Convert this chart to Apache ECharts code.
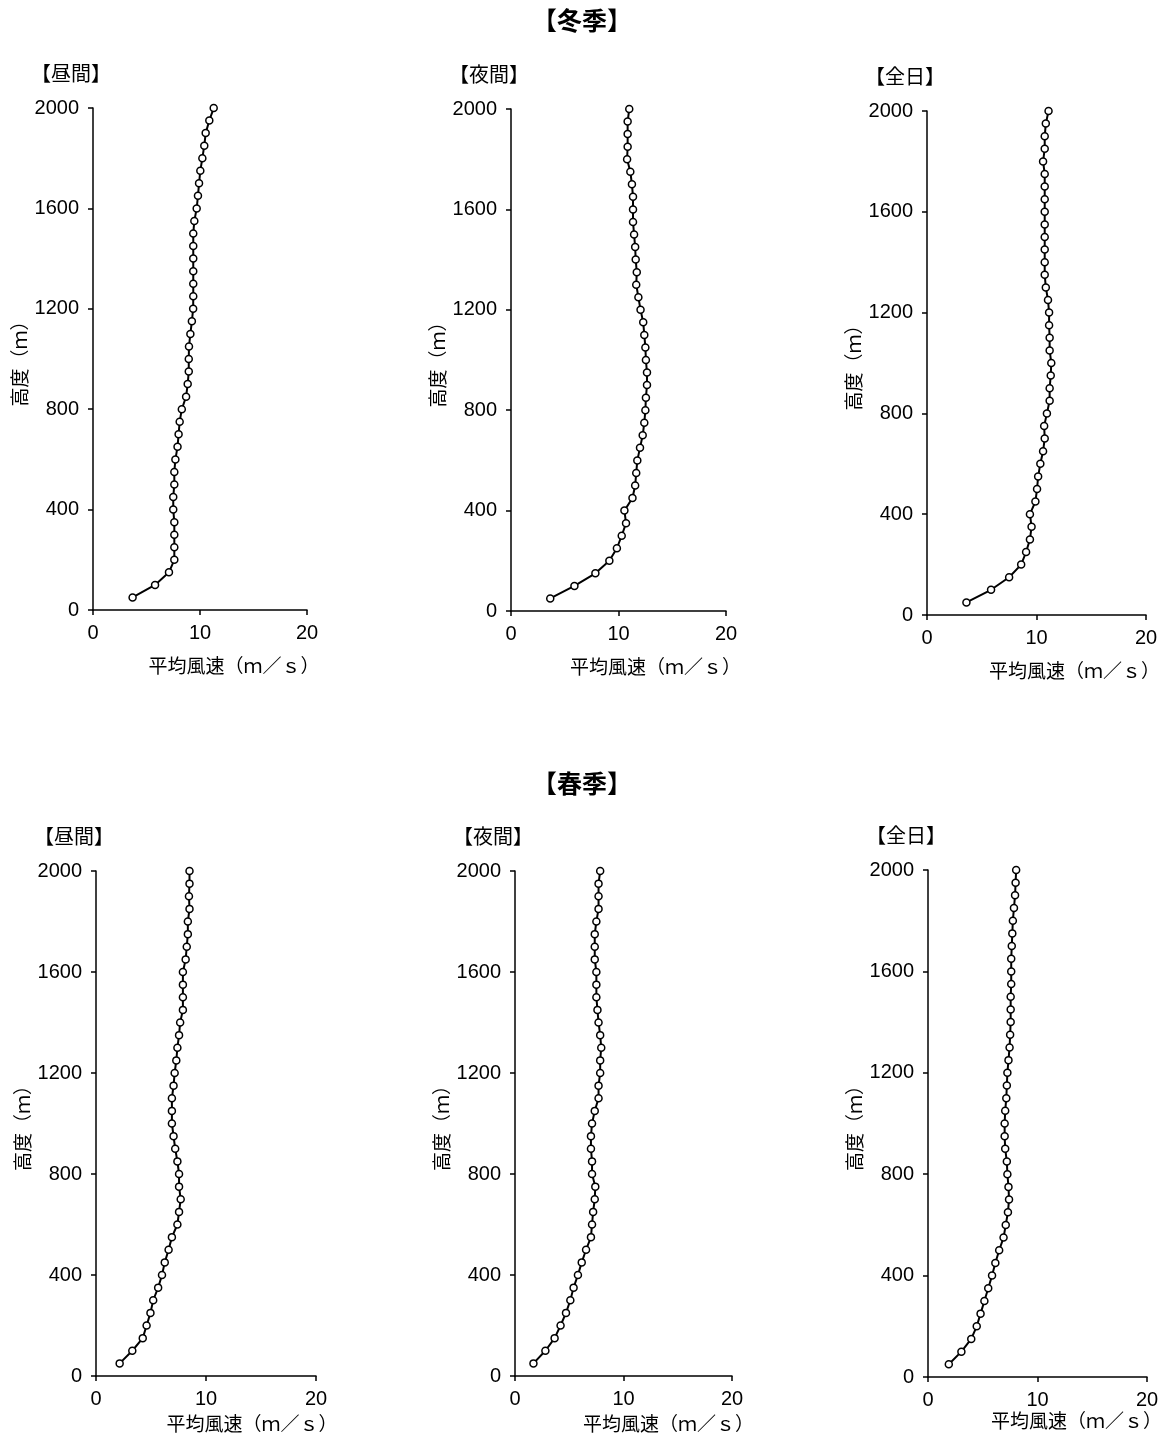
<!DOCTYPE html>
<html>
<head>
<meta charset="utf-8">
<script src="https://cdn.jsdelivr.net/npm/echarts@6/dist/echarts.min.js"></script>
<style>
html,body{margin:0;padding:0;background:#fff;}
#chart{width:1164px;height:1441px;}
</style>
</head>
<body>
<div id="chart"></div>
<script>
// Heights (m)
var heights = [50,100,150,200,250,300,350,400,450,500,550,600,650,700,750,800,850,900,950,1000,
  1050,1100,1150,1200,1250,1300,1350,1400,1450,1500,1550,1600,1650,1700,1750,1800,1850,1900,1950,2000];

// Mean wind speed (m/s) per height
var winterDay = [3.7,5.8,7.1,7.6,7.6,7.6,7.6,7.5,7.5,7.6,7.6,7.7,7.9,8.0,8.1,8.3,8.7,8.85,8.95,8.95,
  8.97,9.1,9.24,9.36,9.37,9.37,9.37,9.37,9.37,9.37,9.47,9.69,9.81,9.91,10.03,10.22,10.4,10.53,10.87,11.28];
var winterNight = [3.65,5.9,7.85,9.15,9.85,10.3,10.7,10.55,11.3,11.55,11.65,11.75,12.0,12.25,12.4,12.5,12.55,12.65,12.65,12.55,
  12.5,12.4,12.3,12.05,11.85,11.65,11.7,11.6,11.55,11.45,11.35,11.35,11.35,11.25,11.1,10.8,10.85,10.85,10.85,11.0];
var winterAll = [3.6,5.85,7.5,8.6,9.05,9.4,9.55,9.4,9.9,10.05,10.15,10.35,10.6,10.75,10.7,10.95,11.2,11.2,11.3,11.35,
  11.2,11.2,11.15,11.15,11.05,10.85,10.75,10.75,10.75,10.75,10.75,10.75,10.75,10.75,10.75,10.6,10.75,10.75,10.85,11.1];
var springDay = [2.15,3.3,4.25,4.6,4.95,5.2,5.65,6.0,6.25,6.6,6.9,7.4,7.55,7.7,7.55,7.55,7.4,7.2,7.05,6.9,
  6.9,6.9,7.05,7.15,7.3,7.4,7.55,7.65,7.9,7.9,7.9,7.9,8.15,8.25,8.35,8.35,8.5,8.45,8.5,8.5];
var springNight = [1.7,2.8,3.65,4.2,4.7,5.1,5.4,5.8,6.15,6.55,7.0,7.1,7.2,7.35,7.4,7.1,7.1,7.0,7.0,7.1,
  7.35,7.7,7.7,7.85,7.85,7.95,7.85,7.7,7.6,7.5,7.5,7.5,7.35,7.35,7.35,7.5,7.7,7.7,7.7,7.85];
var springAll = [1.9,3.05,3.95,4.45,4.8,5.15,5.5,5.85,6.15,6.5,6.9,7.1,7.3,7.4,7.35,7.25,7.2,7.05,7.0,7.0,
  7.05,7.15,7.2,7.25,7.35,7.45,7.5,7.55,7.55,7.55,7.6,7.6,7.6,7.65,7.7,7.75,7.85,7.95,8.0,8.05];

var xTicks = [0, 10, 20];
var yTicks = [0, 400, 800, 1200, 1600, 2000];

var seasonTitles = ['【冬季】', '【春季】'];
var panelTitles = ['【昼間】', '【夜間】', '【全日】'];
var xName = '平均風速（ｍ／ｓ）';
var yName = '高度（ｍ）';

var panels = [
  {data: winterDay,   grid: {left: 93,  top: 108, width: 214, height: 502}, shift: 68, gap: 46},
  {data: winterNight, grid: {left: 511, top: 109, width: 215, height: 502}, shift: 74, gap: 46},
  {data: winterAll,   grid: {left: 927, top: 111, width: 219, height: 504}, shift: 76, gap: 46},
  {data: springDay,   grid: {left: 96,  top: 871, width: 220, height: 505}, shift: 92, gap: 38},
  {data: springNight, grid: {left: 515, top: 871, width: 217, height: 505}, shift: 90, gap: 38},
  {data: springAll,   grid: {left: 928, top: 870, width: 219, height: 507}, shift: 78, gap: 26}
];

var FONT = '"Liberation Sans", Arial, "Noto Sans CJK JP", sans-serif';
var CJK = '"Noto Sans CJK JP", "Liberation Sans", sans-serif';

var grids = [], xAxes = [], yAxes = [], series = [], graphics = [];

panels.forEach(function (p, i) {
  grids.push(Object.assign({containLabel: false}, p.grid));
  xAxes.push({
    type: 'value', gridIndex: i, min: xTicks[0], max: xTicks[xTicks.length - 1], interval: 10,
    name: xName, nameLocation: 'middle', nameGap: p.gap,
    nameTextStyle: {fontFamily: CJK, fontSize: 19, color: '#000', padding: [0, 0, 0, p.shift]},
    axisLine: {show: true, onZero: false, lineStyle: {color: '#000', width: 1.5}},
    axisTick: {show: true, length: 5, lineStyle: {color: '#000', width: 1.5}},
    axisLabel: {fontFamily: FONT, fontSize: 20, color: '#000', margin: 13},
    splitLine: {show: false}
  });
  yAxes.push({
    type: 'value', gridIndex: i, min: yTicks[0], max: yTicks[yTicks.length - 1], interval: 400,
    name: yName, nameLocation: 'middle', nameGap: 64,
    nameTextStyle: {fontFamily: CJK, fontSize: 19, color: '#000'},
    axisLine: {show: true, onZero: false, lineStyle: {color: '#000', width: 1.5}},
    axisTick: {show: true, length: 5, lineStyle: {color: '#000', width: 1.5}},
    axisLabel: {fontFamily: FONT, fontSize: 20, color: '#000', margin: 14,
      formatter: function (v) { return String(v); }},
    splitLine: {show: false}
  });
  series.push({
    type: 'line', xAxisIndex: i, yAxisIndex: i,
    data: p.data.map(function (v, k) { return [v, heights[k]]; }),
    symbol: 'circle', symbolSize: 7,
    lineStyle: {color: '#000', width: 2},
    itemStyle: {color: '#fff', borderColor: '#000', borderWidth: 1.5},
    animation: false, silent: true
  });
  graphics.push({
    type: 'text', x: p.grid.left - 22, y: p.grid.top - 35,
    style: {text: panelTitles[i % 3], fontFamily: CJK, fontSize: 20, fill: '#000',
      textAlign: 'center', textVerticalAlign: 'middle'}
  });
});

graphics.push({type: 'text', x: 582, y: 20,
  style: {text: seasonTitles[0], fontFamily: CJK, fontSize: 25, fontWeight: 'bold', fill: '#000',
    textAlign: 'center', textVerticalAlign: 'middle'}});
graphics.push({type: 'text', x: 582, y: 783,
  style: {text: seasonTitles[1], fontFamily: CJK, fontSize: 25, fontWeight: 'bold', fill: '#000',
    textAlign: 'center', textVerticalAlign: 'middle'}});

var chart = echarts.init(document.getElementById('chart'), null, {renderer: 'canvas'});
chart.setOption({
  backgroundColor: '#fff',
  animation: false,
  grid: grids, xAxis: xAxes, yAxis: yAxes, series: series,
  graphic: graphics
});
</script>
</body>
</html>
